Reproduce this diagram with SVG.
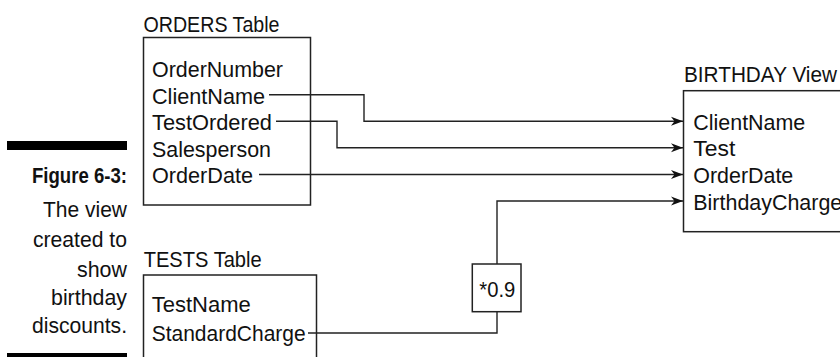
<svg xmlns="http://www.w3.org/2000/svg" width="840" height="357" viewBox="0 0 840 357">
  <style>
    text { font-family: "Liberation Sans", Arial, sans-serif; font-size: 22px; fill: #111; }
    .cap { text-anchor: end; }
    .bold { font-weight: bold; }
    .box { fill: #fff; stroke: #222; stroke-width: 1.5; }
    .conn { fill: none; stroke: #222; stroke-width: 1.4; }
  </style>
  <defs>
    <marker id="arr" markerUnits="userSpaceOnUse" markerWidth="14" markerHeight="12" refX="12" refY="5" orient="auto">
      <path d="M0,0.5 L12,5 L0,9.5 L3.5,5 Z" fill="#111"/>
    </marker>
  </defs>
  <rect width="840" height="357" fill="#fff"/>

  <g id="caption">
    <rect x="7" y="141" width="120" height="9" fill="#000"/>
    <text class="cap bold" x="127" y="183" textLength="95" lengthAdjust="spacingAndGlyphs">Figure 6-3:</text>
    <text class="cap" x="127" y="217" textLength="84" lengthAdjust="spacingAndGlyphs">The view</text>
    <text class="cap" x="127" y="247" textLength="94" lengthAdjust="spacingAndGlyphs">created to</text>
    <text class="cap" x="127" y="277" textLength="50" lengthAdjust="spacingAndGlyphs">show</text>
    <text class="cap" x="127" y="305" textLength="76" lengthAdjust="spacingAndGlyphs">birthday</text>
    <text class="cap" x="127" y="333" textLength="95" lengthAdjust="spacingAndGlyphs">discounts.</text>
    <rect x="7" y="353" width="120" height="9" fill="#000"/>
  </g>

  <g id="orders">
    <text x="143.5" y="31.7" textLength="136" lengthAdjust="spacingAndGlyphs">ORDERS Table</text>
    <rect class="box" x="143.5" y="37.5" width="167" height="167.5"/>
    <text x="152" y="77.3" textLength="131" lengthAdjust="spacingAndGlyphs">OrderNumber</text>
    <text x="152" y="103.8" textLength="113" lengthAdjust="spacingAndGlyphs">ClientName</text>
    <text x="152" y="130.3" textLength="120" lengthAdjust="spacingAndGlyphs">TestOrdered</text>
    <text x="152" y="156.8" textLength="119" lengthAdjust="spacingAndGlyphs">Salesperson</text>
    <text x="152" y="183.3" textLength="101" lengthAdjust="spacingAndGlyphs">OrderDate</text>
  </g>

  <g id="tests">
    <text x="143.7" y="267" textLength="118" lengthAdjust="spacingAndGlyphs">TESTS Table</text>
    <rect class="box" x="143.5" y="275" width="173" height="100"/>
    <text x="151.7" y="311.5" textLength="99" lengthAdjust="spacingAndGlyphs">TestName</text>
    <text x="151.7" y="341" textLength="154" lengthAdjust="spacingAndGlyphs">StandardCharge</text>
  </g>

  <g id="birthday">
    <text x="684" y="81.7" textLength="153" lengthAdjust="spacingAndGlyphs">BIRTHDAY View</text>
    <rect class="box" x="683.5" y="90.7" width="200" height="141"/>
    <text x="693.3" y="129.8" textLength="112" lengthAdjust="spacingAndGlyphs">ClientName</text>
    <text x="693.3" y="156.3" textLength="42" lengthAdjust="spacingAndGlyphs">Test</text>
    <text x="693.3" y="183" textLength="100" lengthAdjust="spacingAndGlyphs">OrderDate</text>
    <text x="693.3" y="209.5" textLength="149" lengthAdjust="spacingAndGlyphs">BirthdayCharge</text>
  </g>

  <g id="factor">
    <rect class="box" x="472.3" y="264" width="48.7" height="47.7"/>
    <text x="479.3" y="296.5" textLength="36" lengthAdjust="spacingAndGlyphs">*0.9</text>
  </g>

  <g id="connectors">
    <path class="conn" d="M269,94.8 H364 V121.3 H683" marker-end="url(#arr)"/>
    <path class="conn" d="M276,121.3 H337 V147.8 H683" marker-end="url(#arr)"/>
    <path class="conn" d="M259,174.5 H683" marker-end="url(#arr)"/>
    <path class="conn" d="M308,333 H497 V311.7"/>
    <path class="conn" d="M497,264 V201 H683" marker-end="url(#arr)"/>
  </g>
</svg>
